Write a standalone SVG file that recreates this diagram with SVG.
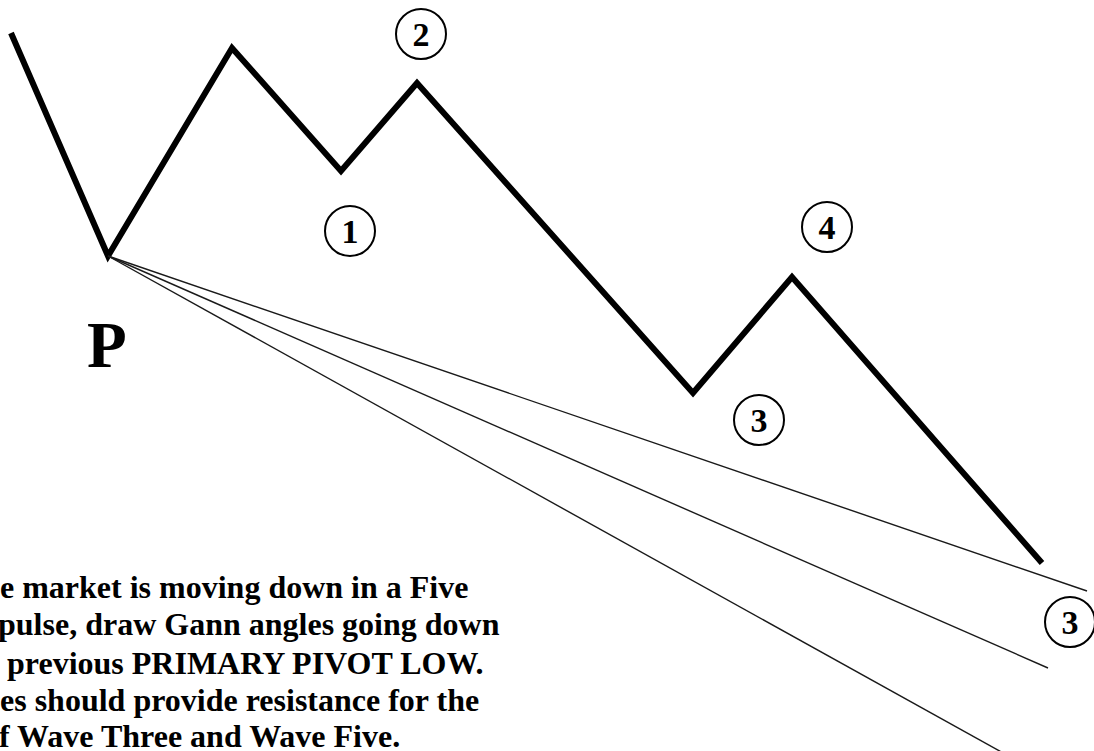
<svg xmlns="http://www.w3.org/2000/svg" width="1094" height="751" viewBox="0 0 1094 751">
<style>
.wave{fill:none;stroke:#000;stroke-width:6;stroke-linejoin:miter;stroke-linecap:butt}
.gann{fill:none;stroke:#1a1a1a;stroke-width:1.4}
.ring{fill:#fff;stroke:#000;stroke-width:2}
.num{font-family:"Liberation Serif","Times New Roman",serif;font-weight:bold;font-size:34px;text-anchor:middle;fill:#000}
.note{font-family:"Liberation Serif","Times New Roman",serif;font-weight:bold;font-size:32px;fill:#000}
</style>
<rect width="1094" height="751" fill="#fff"/>
<g id="connectors">
<polyline class="wave" points="11,33 108,256 232,48 341,171 417,83 693,393 792,277 1042,563"/>
<line class="gann" x1="108" y1="256" x2="1087" y2="591"/>
<line class="gann" x1="108" y1="256" x2="1048" y2="668"/>
<line class="gann" x1="108" y1="256" x2="1005" y2="754"/>
</g>
<g id="label-P"><text x="87" y="367" font-family="Liberation Serif, Times New Roman, serif" font-weight="bold" font-size="65">P</text></g>
<g id="wave-1"><circle class="ring" cx="350" cy="231" r="25"/><text class="num" x="350" y="242.5">1</text></g>
<g id="wave-2"><circle class="ring" cx="421" cy="34" r="25"/><text class="num" x="421" y="45.5">2</text></g>
<g id="wave-3a"><circle class="ring" cx="759" cy="420" r="25"/><text class="num" x="759" y="431.5">3</text></g>
<g id="wave-4"><circle class="ring" cx="827" cy="227" r="25"/><text class="num" x="827" y="238.5">4</text></g>
<g id="wave-3b"><circle class="ring" cx="1070" cy="622" r="25"/><text class="num" x="1070" y="633.5">3</text></g>
<g id="note">
<text class="note" x="0" y="598">e market is moving down in a Five</text>
<text class="note" x="-2" y="635">pulse, draw Gann angles going down</text>
<text class="note" x="7" y="674">previous PRIMARY PIVOT LOW.</text>
<text class="note" x="0" y="711">es should provide resistance for the</text>
<text class="note" x="-1" y="747">f Wave Three and Wave Five.</text>
</g>
</svg>
